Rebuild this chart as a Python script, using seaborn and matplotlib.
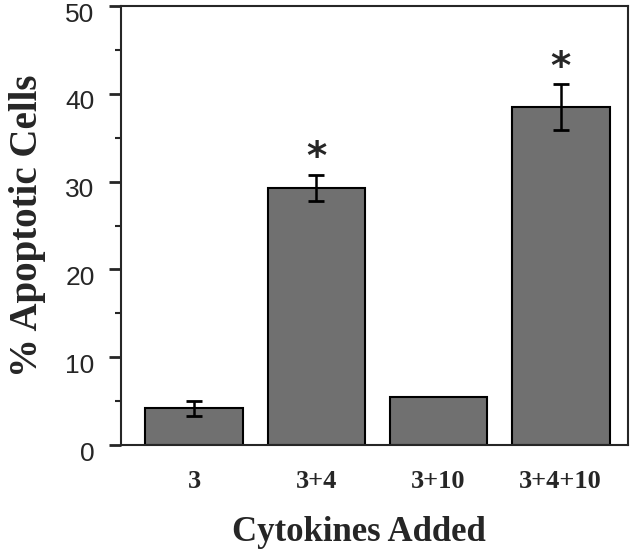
import numpy as np
import pandas as pd
import matplotlib.pyplot as plt
import matplotlib.transforms as mtransforms
import seaborn as sns

# data
cytokines = ['3', '3+4', '3+10', '3+4+10']
pct_apoptotic = [4.2, 29.3, 5.5, 38.5]
sem = [0.85, 1.45, 0.0, 2.6]
signif = [False, True, False, True]

df = pd.DataFrame({'cytokines': cytokines, 'pct': pct_apoptotic})

sns.set_style('ticks')
fig = plt.figure(figsize=(6.4, 5.57), dpi=100)
ax = fig.add_axes([0.189, 0.201, 0.792, 0.788])

sns.barplot(data=df, x='cytokines', y='pct', color='#707070', saturation=1,
            edgecolor='black', linewidth=1.5, width=0.8, ax=ax, errorbar=None)

# error bars (only where there is one)
for i, (v, e) in enumerate(zip(pct_apoptotic, sem)):
    if e > 0:
        ax.errorbar(i, v, yerr=e, color='black', capsize=6, capthick=2,
                    elinewidth=1.8, zorder=5)
    if signif[i]:
        ax.text(i, v + e + 1.9, '*', ha='center', va='center',
                fontsize=28, fontweight='bold', family='DejaVu Sans')

ax.set_ylim(0, 50)
ax.set_xlim(-0.6, 3.55)
ax.set_yticks(np.arange(0, 51, 10))
ax.set_yticks(np.arange(5, 50, 10), minor=True)
ax.tick_params(axis='y', which='major', length=9, width=2, labelsize=19, pad=10)
ax.tick_params(axis='y', which='minor', length=4, width=1.5)
ax.tick_params(axis='x', length=0, pad=18)
# tick labels sit a little below their ticks in the original
shift = mtransforms.ScaledTranslation(0, -6 / 100, fig.dpi_scale_trans)
for lab in ax.get_yticklabels():
    lab.set_family('Liberation Sans')
    lab.set_transform(lab.get_transform() + shift)
for lab in ax.get_xticklabels():
    lab.set_family('Liberation Serif')
    lab.set_fontweight('bold')
    lab.set_fontsize(19)

for s in ax.spines.values():
    s.set_linewidth(1.5)

ax.set_ylabel('% Apoptotic Cells', family='Liberation Serif', fontweight='bold',
              fontsize=28, va='center')
ax.yaxis.set_label_coords(-0.185, 0.5)
ax.set_xlabel('Cytokines Added', family='Liberation Serif', fontweight='bold',
              fontsize=25, va='center')
ax.xaxis.set_label_coords(0.47, -0.2)

fig.savefig('out.png', dpi=100)
